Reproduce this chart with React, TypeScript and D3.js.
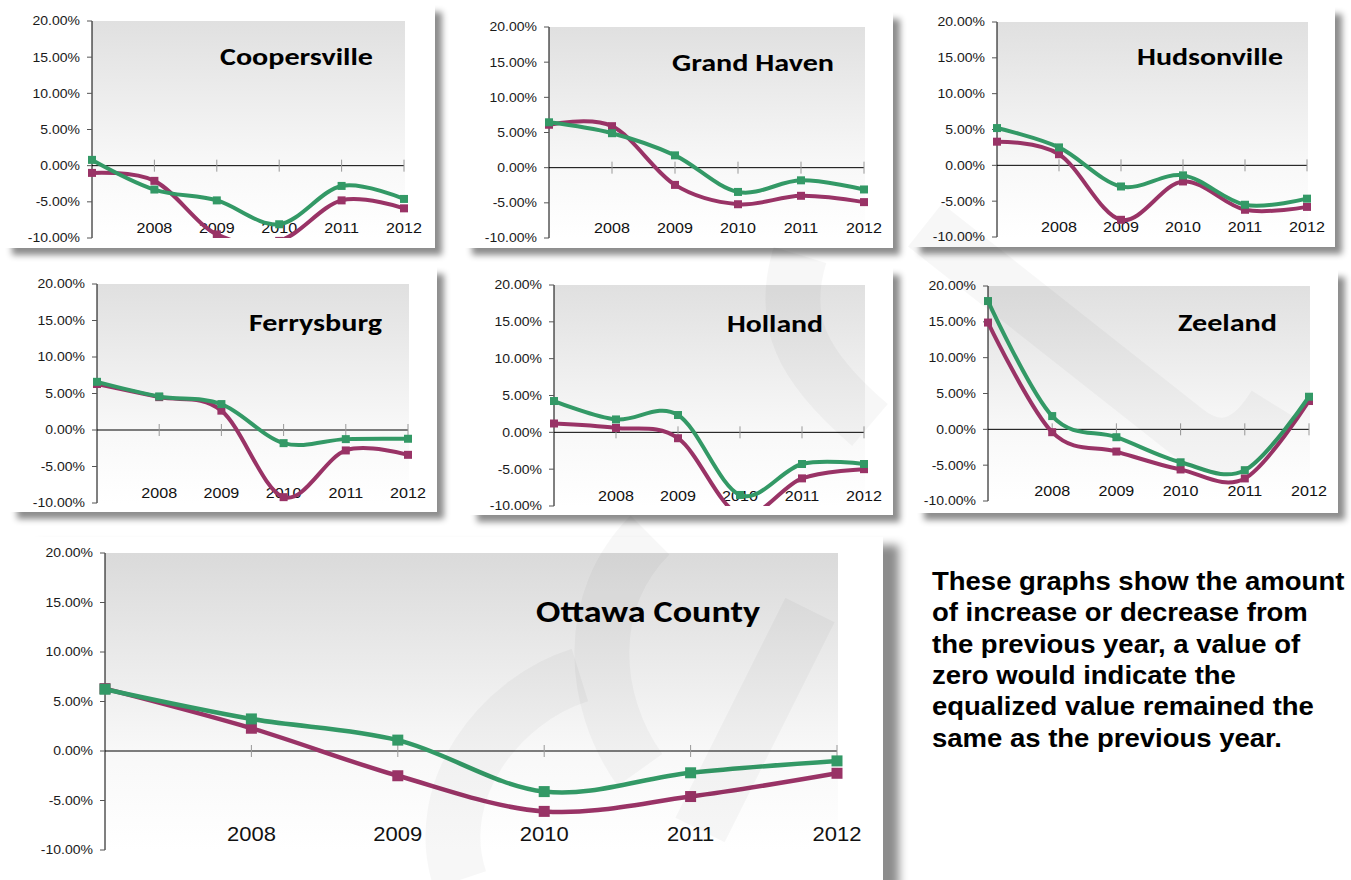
import React from 'react';
import * as d3 from 'd3';

// Category axis: the first point (2007) carries no label
const categories = ['', '2008', '2009', '2010', '2011', '2012'];
const yTickValues = [20, 15, 10, 5, 0, -5, -10];
const yDomain: [number, number] = [-10, 20];

// Year-over-year change in equalized value, percent
const coopersvilleGreen = [0.8, -3.3, -4.8, -8.1, -2.8, -4.6];
const coopersvillePurple = [-1.0, -2.1, -9.5, -10.4, -4.8, -5.9];
const grandHavenGreen = [6.45, 4.9, 1.75, -3.45, -1.8, -3.1];
const grandHavenPurple = [6.1, 5.9, -2.45, -5.2, -4.0, -4.9];
const hudsonvilleGreen = [5.2, 2.5, -2.95, -1.4, -5.5, -4.65];
const hudsonvillePurple = [3.3, 1.55, -7.6, -2.25, -6.2, -5.8];
const ferrysburgGreen = [6.6, 4.6, 3.55, -1.8, -1.25, -1.2];
const ferrysburgPurple = [6.3, 4.5, 2.65, -9.2, -2.8, -3.4];
const hollandGreen = [4.25, 1.75, 2.35, -8.5, -4.3, -4.3];
const hollandPurple = [1.2, 0.6, -0.8, -11.2, -6.25, -5.0];
const zeelandGreen = [17.9, 1.85, -1.1, -4.6, -5.7, 4.55];
const zeelandPurple = [14.9, -0.4, -3.1, -5.6, -6.85, 3.95];
const ottawaGreen = [6.24, 3.24, 1.1, -4.1, -2.2, -1.0];
const ottawaPurple = [6.3, 2.3, -2.5, -6.1, -4.6, -2.25];

const titles = [
  'Coopersville',
  'Grand Haven',
  'Hudsonville',
  'Ferrysburg',
  'Holland',
  'Zeeland',
  'Ottawa County',
];

const noteLines = [
  'These graphs show the amount',
  'of increase or decrease from',
  'the previous year, a value of',
  'zero would indicate the',
  'equalized value remained the',
  'same as the previous year.',
];

const GREEN = '#339966';
const PURPLE = '#993366';

type Layout = {
  card: [number, number, number, number];
  plot: [number, number, number, number]; // x of first point, x of last point, y top, y bottom
  titleX: number;
  titleY: number;
  titleW: number;
  big?: boolean;
};

const layouts: Layout[] = [
  { card: [5, 5, 430, 243], plot: [92, 404, 21, 238], titleX: 220, titleY: 65, titleW: 153 },
  { card: [465, 12, 428, 236], plot: [549, 864, 27, 238], titleX: 672, titleY: 71, titleW: 162 },
  { card: [913, 7, 422, 240], plot: [997, 1307, 22, 237], titleX: 1137, titleY: 65, titleW: 146 },
  { card: [10, 267, 427, 245], plot: [97, 408, 284, 503], titleX: 249, titleY: 331, titleW: 133 },
  { card: [470, 268, 423, 247], plot: [554, 864, 285, 506], titleX: 727, titleY: 332, titleW: 96 },
  { card: [917, 270, 421, 243], plot: [988, 1309, 286, 501], titleX: 1178, titleY: 331, titleW: 99 },
  { card: [23, 537, 860, 345], plot: [105, 837, 553, 850], titleX: 536, titleY: 622, titleW: 224, big: true },
];

const seriesPairs: [number[], number[]][] = [
  [coopersvilleGreen, coopersvillePurple],
  [grandHavenGreen, grandHavenPurple],
  [hudsonvilleGreen, hudsonvillePurple],
  [ferrysburgGreen, ferrysburgPurple],
  [hollandGreen, hollandPurple],
  [zeelandGreen, zeelandPurple],
  [ottawaGreen, ottawaPurple],
];

const fmtPct = (v: number) => `${v.toFixed(2)}%`;

function Panel({ idx, title, green, purple, layout }: {
  idx: number;
  title: string;
  green: number[];
  purple: number[];
  layout: Layout;
}) {
  const big = !!layout.big;
  const [cx, cy, cw, ch] = layout.card;
  const [x0, x1, yTop, yBot] = layout.plot;
  const x = d3.scalePoint<string>().domain(categories).range([x0, x1]);
  const y = d3.scaleLinear().domain(yDomain).range([yBot, yTop]);
  const line = d3
    .line<number>()
    .x((_, i) => x(categories[i]) as number)
    .y((d) => y(d))
    .curve(d3.curveCardinal.tension(0));

  const lineW = big ? 4.5 : 4;
  const mk = big ? 11 : 8;
  const xFont = big ? 20 : 14;
  const xScale = big ? 1.1 : 1.15;
  const xLabelY = yBot - (big ? 9 : 5);
  const titleSize = big ? 31 : 25;
  const clipId = `clip-${idx}`;
  const gradId = `bg-${idx}`;
  const y0 = y(0);

  const series = [
    { data: purple, color: PURPLE },
    { data: green, color: GREEN },
  ];

  return (
    <g>
      <defs>
        <linearGradient id={gradId} x1="0" y1="0" x2="0" y2="1">
          <stop offset="0" stopColor={big ? '#dadada' : '#e0e0e0'} />
          <stop offset="0.66" stopColor="#f8f8f8" />
          <stop offset="1" stopColor="#ffffff" />
        </linearGradient>
        <clipPath id={clipId}>
          <rect x={x0 - 20} y={yTop} width={x1 - x0 + 40} height={yBot - yTop} />
        </clipPath>
      </defs>
      <rect
        x={cx}
        y={cy}
        width={cw}
        height={ch}
        fill="#ffffff"
        filter={big ? 'url(#shadowBig)' : 'url(#shadowSmall)'}
      />
      <rect x={x0} y={yTop} width={x1 - x0 + 1} height={yBot - yTop} fill={`url(#${gradId})`} />

      {/* value axis */}
      <line x1={x0} x2={x0} y1={yTop} y2={yBot} stroke="#000" strokeWidth={1} />
      {yTickValues.map((t) => (
        <g key={t}>
          <line x1={x0 - 5} x2={x0} y1={y(t)} y2={y(t)} stroke="#555" strokeWidth={1} />
          <text
            transform={`translate(${x0 - 12},${y(t)}) scale(1.12,1)`}
            textAnchor="end"
            dy="0.35em"
            fontFamily="'Liberation Sans', Arial, sans-serif"
            fontSize={12.5}
            fill="#1a1a1a"
          >
            {fmtPct(t)}
          </text>
        </g>
      ))}

      {/* category axis along zero */}
      <line x1={x0} x2={x1} y1={y0} y2={y0} stroke="#000" strokeWidth={1} />
      {categories.map((c, i) =>
        i === 0 ? null : (
          <line
            key={`tk${i}`}
            x1={x(c)}
            x2={x(c)}
            y1={y0 - 6}
            y2={y0 + 6}
            stroke="#999"
            strokeWidth={1}
          />
        )
      )}
      {categories.map((c, i) =>
        c ? (
          <text
            key={`lb${i}`}
            transform={`translate(${x(c)},${xLabelY}) scale(${xScale},1)`}
            textAnchor="middle"
            fontFamily="'Liberation Sans', Arial, sans-serif"
            fontSize={xFont}
            fill="#111"
          >
            {c}
          </text>
        ) : null
      )}

      <text
        x={layout.titleX}
        y={layout.titleY}
        textLength={layout.titleW}
        lengthAdjust="spacingAndGlyphs"
        fontFamily="Carlito, Lato, 'Open Sans', sans-serif"
        fontWeight={700}
        fontSize={titleSize}
        fill="#000"
      >
        {title}
      </text>

      <g clipPath={`url(#${clipId})`}>
        {series.map((s, si) => (
          <g key={si}>
            <path d={line(s.data) || ''} fill="none" stroke={s.color} strokeWidth={lineW} strokeLinejoin="round" />
            {s.data.map((v, i) => (
              <rect
                key={i}
                x={(x(categories[i]) as number) - mk / 2}
                y={y(v) - mk / 2}
                width={mk}
                height={mk}
                fill={s.color}
              />
            ))}
          </g>
        ))}
      </g>
    </g>
  );
}

export default function App() {
  return (
    <svg
      width={1351}
      height={880}
      viewBox="0 0 1351 880"
      style={{ position: 'absolute', left: 0, top: 0, display: 'block', background: '#fff' }}
    >
      <defs>
        <filter id="shadowSmall" x="-5%" y="-5%" width="115%" height="120%">
          <feDropShadow dx="7" dy="7" stdDeviation="3" floodColor="#000" floodOpacity="0.45" />
        </filter>
        <filter id="shadowBig" x="-5%" y="-5%" width="115%" height="120%">
          <feDropShadow dx="16" dy="8" stdDeviation="5" floodColor="#000" floodOpacity="0.45" />
        </filter>
      </defs>
      <rect x={0} y={0} width={1351} height={880} fill="#fff" />

      {layouts.map((l, i) => (
        <Panel
          key={i}
          idx={i}
          title={titles[i]}
          green={seriesPairs[i][0]}
          purple={seriesPairs[i][1]}
          layout={l}
        />
      ))}

      <g fontFamily="'Liberation Sans', Arial, sans-serif" fontWeight={700} fontSize={25} fill="#000">
        {noteLines.map((t, i) => (
          <text key={i} transform={`translate(932,${590 + i * 31.3}) scale(1.1,1)`}>
            {t}
          </text>
        ))}
      </g>

      {/* faint logo mark laid over the page */}
      <g fill="none" stroke="#000" strokeOpacity={0.032} strokeWidth={55}>
        <path d="M 800,255 C 780,320 800,365 870,425" />
        <path d="M 925,225 L 1185,430 Q 1235,470 1275,405" />
        <path d="M 650,535 C 585,600 590,700 640,770" />
        <path d="M 810,610 L 700,830" />
        <path d="M 460,880 C 430,790 500,700 580,675" />
      </g>
    </svg>
  );
}
